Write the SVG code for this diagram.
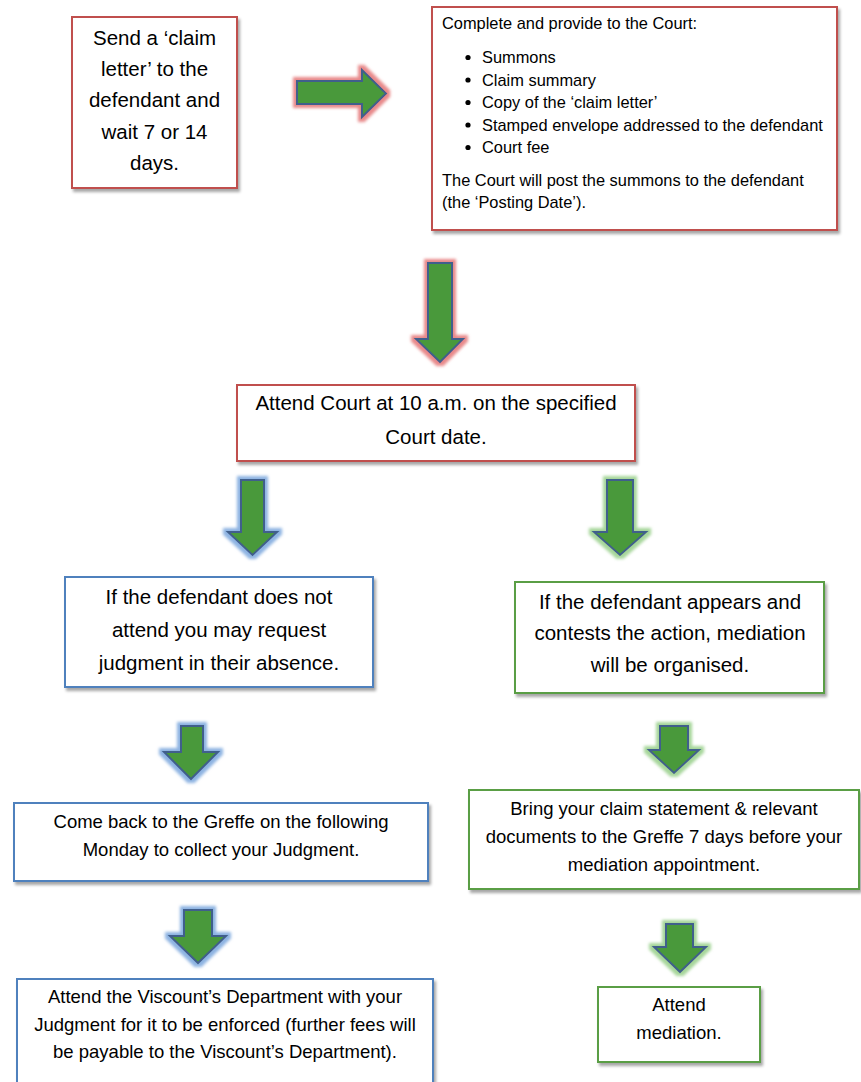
<svg xmlns="http://www.w3.org/2000/svg" width="861" height="1082" viewBox="0 0 861 1082">
<defs>
<style>
.box{fill:#fff;stroke-width:2;filter:url(#shadow)}
.red{stroke:#C0504D}
.blue{stroke:#4F81BD}
.green{stroke:#5A9E45}
.t{font-family:"Liberation Sans",Arial,sans-serif;fill:#000;text-anchor:middle}
.big{font-size:20.5px}
.mid{font-size:18.5px}
.sm{font-size:16.4px;text-anchor:start}
.arrow{fill:#4A993B;stroke:#3F5E8C;stroke-width:2;stroke-linejoin:miter}
</style>
<filter id="shadow" x="-10%" y="-10%" width="125%" height="130%">
<feDropShadow dx="2" dy="3" stdDeviation="1.8" flood-color="#000" flood-opacity="0.35"/>
</filter>
<filter id="glowRed" x="-40%" y="-40%" width="180%" height="180%">
<feMorphology in="SourceAlpha" operator="dilate" radius="2.5" result="d"/>
<feGaussianBlur in="d" stdDeviation="1.8" result="b"/>
<feFlood flood-color="#E8898A"/>
<feComposite in2="b" operator="in" result="g"/>
<feMerge><feMergeNode in="g"/><feMergeNode in="SourceGraphic"/></feMerge>
</filter>
<filter id="glowBlue" x="-40%" y="-40%" width="180%" height="180%">
<feMorphology in="SourceAlpha" operator="dilate" radius="2.5" result="d"/>
<feGaussianBlur in="d" stdDeviation="1.8" result="b"/>
<feFlood flood-color="#8DB3E2"/>
<feComposite in2="b" operator="in" result="g"/>
<feMerge><feMergeNode in="g"/><feMergeNode in="SourceGraphic"/></feMerge>
</filter>
<filter id="glowGreen" x="-40%" y="-40%" width="180%" height="180%">
<feMorphology in="SourceAlpha" operator="dilate" radius="2.5" result="d"/>
<feGaussianBlur in="d" stdDeviation="1.8" result="b"/>
<feFlood flood-color="#A6D69A"/>
<feComposite in2="b" operator="in" result="g"/>
<feMerge><feMergeNode in="g"/><feMergeNode in="SourceGraphic"/></feMerge>
</filter>
</defs>
<rect width="861" height="1082" fill="#fff"/>

<g id="connectors">
<path class="arrow" filter="url(#glowRed)" d="M297,81 H362 V70 L386,93.5 L362,117 V104 H297 Z"/>
<path class="arrow" filter="url(#glowRed)" d="M428,263 H452 V339 H463 L440,362 L416,339 H428 Z"/>
<path class="arrow" filter="url(#glowBlue)" d="M241,480 H264 V532 H277 L252.5,555 L228,532 H241 Z"/>
<path class="arrow" filter="url(#glowGreen)" d="M607,480 H633 V532 H646 L620,555 L594,532 H607 Z"/>
<path class="arrow" filter="url(#glowBlue)" d="M181,726 H203 V752 H218 L191,779 L164,752 H181 Z"/>
<path class="arrow" filter="url(#glowGreen)" d="M660,726 H688 V750 H699 L674,773 L649,750 H660 Z"/>
<path class="arrow" filter="url(#glowBlue)" d="M184,910 H212 V936 H226 L198,963 L170,936 H184 Z"/>
<path class="arrow" filter="url(#glowGreen)" d="M666,924 H693 V947 H706 L680,972 L654,947 H666 Z"/>
</g>

<g id="node-send">
<rect class="box red" x="72" y="17" width="165" height="171"/>
<text class="t big" x="154.5" y="45">Send a ‘claim</text>
<text class="t big" x="154.5" y="76">letter’ to the</text>
<text class="t big" x="154.5" y="107">defendant and</text>
<text class="t big" x="154.5" y="139">wait 7 or 14</text>
<text class="t big" x="154.5" y="170">days.</text>
</g>

<g id="node-complete">
<rect class="box red" x="432" y="7" width="405" height="223"/>
<text class="t sm" x="442" y="29">Complete and provide to the Court:</text>
<circle cx="468" cy="57.5" r="2.6"/>
<text class="t sm" x="482" y="63">Summons</text>
<circle cx="468" cy="80" r="2.6"/>
<text class="t sm" x="482" y="85.5">Claim summary</text>
<circle cx="468" cy="102.5" r="2.6"/>
<text class="t sm" x="482" y="108">Copy of the ‘claim letter’</text>
<circle cx="468" cy="125" r="2.6"/>
<text class="t sm" x="482" y="130.5">Stamped envelope addressed to the defendant</text>
<circle cx="468" cy="147.5" r="2.6"/>
<text class="t sm" x="482" y="153">Court fee</text>
<text class="t sm" x="442" y="186">The Court will post the summons to the defendant</text>
<text class="t sm" x="442" y="208">(the ‘Posting Date’).</text>
</g>

<g id="node-attend-court">
<rect class="box red" x="237" y="385" width="398" height="76"/>
<text class="t big" x="436" y="410">Attend Court at 10 a.m. on the specified</text>
<text class="t big" x="436" y="444">Court date.</text>
</g>

<g id="node-not-attend">
<rect class="box blue" x="65" y="577" width="308" height="110"/>
<text class="t big" x="219" y="604">If the defendant does not</text>
<text class="t big" x="219" y="637">attend you may request</text>
<text class="t big" x="219" y="670">judgment in their absence.</text>
</g>

<g id="node-appears">
<rect class="box green" x="515" y="582" width="309" height="111"/>
<text class="t big" x="670" y="609">If the defendant appears and</text>
<text class="t big" x="670" y="640">contests the action, mediation</text>
<text class="t big" x="670" y="672">will be organised.</text>
</g>

<g id="node-come-back">
<rect class="box blue" x="14" y="803" width="414" height="78"/>
<text class="t mid" x="221" y="828">Come back to the Greffe on the following</text>
<text class="t mid" x="221" y="856">Monday to collect your Judgment.</text>
</g>

<g id="node-bring">
<rect class="box green" x="469" y="790" width="390" height="99"/>
<text class="t mid" x="664" y="815">Bring your claim statement &amp; relevant</text>
<text class="t mid" x="664" y="843">documents to the Greffe 7 days before your</text>
<text class="t mid" x="664" y="871">mediation appointment.</text>
</g>

<g id="node-viscount">
<rect class="box blue" x="17" y="979" width="416" height="115"/>
<text class="t mid" x="225" y="1003">Attend the Viscount’s Department with your</text>
<text class="t mid" x="225" y="1031">Judgment for it to be enforced (further fees will</text>
<text class="t mid" x="225" y="1058">be payable to the Viscount’s Department).</text>
</g>

<g id="node-mediation">
<rect class="box green" x="598" y="987" width="162" height="75"/>
<text class="t mid" x="679" y="1011">Attend</text>
<text class="t mid" x="679" y="1039">mediation.</text>
</g>
</svg>
